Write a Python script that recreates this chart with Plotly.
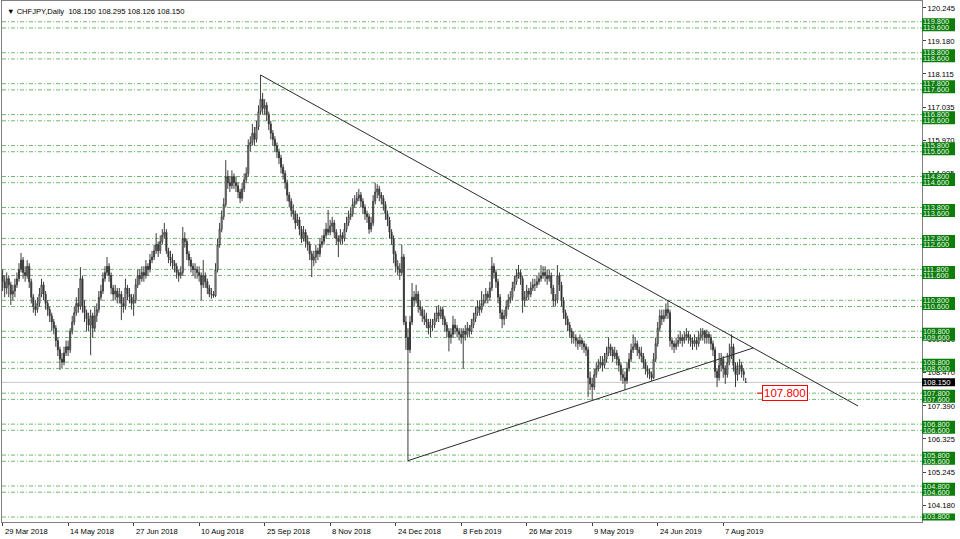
import plotly.graph_objects as go

# ---------------- data ----------------
chart_title = "CHFJPY,Daily  108.150 108.295 108.126 108.150"

x_tick_bars = [0, 32, 64, 96, 128, 160, 192, 224, 256, 288, 320, 352]
x_tick_text = ["29 Mar 2018", "14 May 2018", "27 Jun 2018", "10 Aug 2018", "25 Sep 2018",
               "8 Nov 2018", "24 Dec 2018", "8 Feb 2019", "26 Mar 2019", "9 May 2019",
               "24 Jun 2019", "7 Aug 2019"]

y_tick_vals = [120.245, 119.180, 118.115, 117.035, 115.970, 114.905, 113.825, 112.760,
               111.695, 110.615, 109.550, 108.470, 107.390, 106.325, 105.245, 104.180]

level_prices = [119.8, 119.6, 118.8, 118.6, 117.8, 117.6, 116.8, 116.6, 115.8, 115.6,
                114.8, 114.6, 113.8, 113.6, 112.8, 112.6, 111.8, 111.6, 110.8, 110.6,
                109.8, 109.6, 108.8, 108.6, 107.8, 107.6, 106.8, 106.6, 105.8, 105.6,
                104.8, 104.6, 103.8]

bid_price = 108.150
label_price = 107.800
label_bar = 371
label_tick_bars = [368.5, 371]

upper_line_bars = [126, 417.9]
upper_line_prices = [118.08, 107.385]
lower_line_bars = [198, 366.6]
lower_line_prices = [105.62, 109.26]

opens = [
    111.6, 111.4, 111.2, 111.5, 111.3, 111.0, 111.1, 111.3, 111.5, 111.8,
    112.1, 111.7, 111.6, 111.9, 111.4, 110.9, 110.6, 110.5, 110.7, 111.0,
    111.3, 111.0, 110.7, 110.5, 110.3, 110.1, 109.9, 109.5, 109.2, 108.9,
    108.8, 109.1, 109.3, 109.2, 109.8, 110.1, 110.4, 110.7, 110.6, 111.5,
    110.6, 110.4, 110.2, 110.0, 110.3, 109.9, 110.3, 110.5, 110.9, 111.1,
    111.5, 111.7, 111.9, 111.6, 111.2, 111.0, 111.1, 110.9, 111.0, 110.7,
    110.6, 111.2, 111.0, 110.9, 110.7, 110.8, 111.3, 111.6, 111.5, 111.7,
    111.6, 111.9, 111.8, 112.1, 112.2, 112.4, 112.6, 112.4, 112.7, 112.9,
    113.0, 112.4, 112.2, 112.1, 112.0, 111.9, 111.7, 111.6, 111.7, 112.8,
    112.7, 112.3, 112.1, 111.9, 111.8, 111.8, 111.7, 111.6, 111.3, 111.6,
    111.4, 111.2, 111.0, 111.0, 110.95, 111.8, 112.6, 113.1, 113.5, 113.9,
    114.8, 114.6, 114.5, 114.8, 114.6, 114.5, 114.3, 114.1, 114.4, 114.7,
    114.9, 115.8, 115.9, 116.2, 116.0, 116.4, 116.9, 117.3, 117.0, 117.1,
    116.8, 116.5, 116.2, 116.0, 115.8, 115.6, 115.4, 115.1, 114.9, 114.6,
    114.2, 114.0, 113.7, 113.6, 113.3, 113.4, 113.1, 112.8, 113.0, 112.7,
    112.6, 112.3, 112.1, 112.2, 112.4, 112.3, 112.6, 112.7, 112.9, 113.1,
    113.0, 113.2, 113.3, 113.0, 112.8, 112.7, 112.9, 112.8, 113.1, 113.3,
    113.5, 113.6, 113.9, 114.0, 114.1, 114.2, 114.0, 113.8, 113.6, 113.5,
    113.1, 113.3, 114.0, 114.3, 114.4, 114.2, 114.1, 113.9, 113.6, 113.4,
    113.0, 112.8, 112.3, 111.9, 111.8, 111.7, 112.2, 110.1, 109.6, 109.2,
    110.1, 110.9, 110.8, 111.0, 110.6, 110.5, 110.3, 110.2, 110.1, 109.9,
    110.0, 110.0, 110.2, 110.4, 110.3, 110.5, 110.2, 110.0, 109.8, 109.6,
    109.7, 110.0, 109.9, 109.8, 109.7, 109.6, 109.8, 109.7, 109.9, 109.8,
    110.0, 110.2, 110.4, 110.6, 110.5, 110.7, 110.8, 111.0, 110.9, 111.2,
    111.9, 111.7, 111.4, 110.9, 110.4, 110.2, 110.3, 110.6, 110.8, 110.9,
    111.2, 111.4, 111.6, 111.7, 111.5, 110.8, 110.9, 111.1, 111.0, 111.2,
    111.3, 111.3, 111.4, 111.5, 111.6, 111.7, 111.6, 111.5, 111.6, 111.2,
    110.8, 110.8, 111.6, 111.3, 110.8, 110.4, 110.2, 110.0, 109.8, 109.6,
    109.6, 109.5, 109.4, 109.5, 109.4, 109.3, 109.2, 108.3, 108.1, 108.0,
    108.4, 108.6, 108.7, 108.8, 108.7, 108.9, 109.1, 109.3, 109.2, 109.0,
    109.1, 108.9, 108.7, 108.4, 108.3, 108.2, 108.6, 108.9, 109.2, 109.3,
    109.4, 109.2, 109.1, 109.0, 108.8, 108.6, 108.5, 108.4, 108.3, 108.9,
    109.4, 109.9, 110.3, 110.2, 110.3, 110.5, 110.4, 109.5, 109.4, 109.3,
    109.4, 109.5, 109.6, 109.5, 109.6, 109.7, 109.6, 109.5, 109.4, 109.5,
    109.4, 109.6, 109.7, 109.8, 109.6, 109.7, 109.6, 109.4, 109.2, 108.5,
    108.3, 108.7, 108.9, 108.6, 108.4, 108.8, 109.0, 109.3, 108.7, 108.4,
    108.6, 108.7, 108.5, 108.15,
]

highs = [
    111.8, 111.6, 111.7, 111.6, 111.4, 111.3, 111.5, 111.7, 112.0, 112.33,
    112.2, 111.9, 112.1, 112.0, 111.5, 111.0, 110.8, 110.9, 111.2, 111.5,
    111.4, 111.1, 110.8, 110.6, 110.4, 110.2, 110.0, 109.6, 109.3, 109.1,
    109.3, 109.5, 109.5, 109.9, 110.3, 110.6, 110.9, 111.2, 111.87, 111.6,
    110.8, 110.5, 110.4, 110.5, 110.4, 110.6, 110.7, 111.1, 111.3, 111.7,
    111.9, 112.2, 112.0, 111.7, 111.3, 111.3, 111.2, 111.2, 111.1, 110.9,
    111.5, 111.3, 111.2, 111.0, 111.0, 111.5, 111.8, 111.8, 111.9, 111.9,
    112.1, 112.0, 112.3, 112.4, 112.6, 112.97, 112.7, 112.9, 113.1, 113.3,
    113.1, 112.5, 112.4, 112.3, 112.1, 112.0, 111.8, 111.9, 113.17, 113.0,
    112.8, 112.4, 112.2, 112.0, 112.0, 111.9, 111.9, 111.7, 112.1, 111.7,
    111.5, 111.3, 111.2, 111.1, 112.0, 112.8, 113.3, 113.7, 114.1, 115.33,
    115.0, 114.8, 115.0, 114.9, 114.8, 114.6, 114.4, 114.6, 114.9, 115.1,
    116.0, 116.1, 116.5, 116.4, 116.6, 117.1, 118.08, 117.5, 117.3, 117.2,
    116.9, 116.6, 116.3, 116.1, 115.9, 115.7, 115.5, 115.2, 115.0, 114.7,
    114.3, 114.1, 113.9, 113.7, 113.6, 113.5, 113.2, 113.2, 113.1, 112.9,
    112.7, 112.4, 112.4, 112.6, 112.5, 112.8, 112.9, 113.1, 113.3, 113.72,
    113.4, 113.5, 113.4, 113.1, 112.9, 113.1, 113.0, 113.3, 113.5, 113.7,
    113.8, 114.1, 114.2, 114.3, 114.4, 114.3, 114.1, 113.9, 113.7, 113.6,
    113.5, 114.2, 114.6, 114.55, 114.5, 114.3, 114.2, 114.0, 113.7, 113.5,
    113.1, 112.9, 112.4, 112.1, 112.0, 112.6, 112.3, 110.3, 109.9, 110.3,
    111.36, 111.1, 111.3, 111.1, 110.8, 110.6, 110.5, 110.4, 110.2, 110.2,
    110.2, 110.4, 110.6, 110.65, 110.6, 110.6, 110.3, 110.1, 109.9, 109.9,
    110.3, 110.2, 110.0, 109.9, 109.9, 109.9, 110.0, 110.1, 110.0, 110.2,
    110.4, 110.6, 110.8, 110.8, 111.1, 111.0, 111.2, 111.1, 111.4, 112.2,
    112.0, 111.8, 111.5, 111.0, 110.5, 110.5, 110.8, 111.0, 111.1, 111.4,
    111.6, 111.8, 111.94, 111.8, 111.6, 111.1, 111.3, 111.2, 111.4, 111.5,
    111.5, 111.6, 111.7, 111.94, 111.9, 111.9, 111.8, 111.8, 111.7, 111.3,
    111.0, 111.94, 111.7, 111.4, 110.9, 110.5, 110.3, 110.1, 109.9, 109.8,
    109.7, 109.6, 109.7, 109.6, 109.5, 109.4, 109.3, 108.5, 108.3, 108.6,
    108.8, 108.9, 109.0, 109.0, 109.1, 109.3, 109.6, 109.4, 109.3, 109.3,
    109.2, 109.0, 108.8, 108.6, 108.5, 108.8, 109.1, 109.4, 109.7, 109.6,
    109.5, 109.3, 109.3, 109.1, 108.9, 108.7, 108.6, 108.5, 109.1, 109.6,
    110.1, 110.5, 110.5, 110.5, 110.7, 110.81, 110.5, 109.6, 109.5, 109.6,
    109.7, 109.8, 109.7, 109.8, 109.9, 109.8, 109.7, 109.6, 109.7, 109.6,
    109.8, 109.9, 109.9, 109.85, 109.85, 109.8, 109.7, 109.5, 109.3, 108.6,
    109.1, 109.1, 109.0, 108.7, 109.1, 109.4, 109.7, 109.4, 108.8, 108.8,
    108.9, 108.8, 108.6, 108.295,
]

lows = [
    111.1, 110.9, 111.0, 110.9, 110.65, 110.8, 110.9, 111.2, 111.4, 111.7,
    111.5, 111.4, 111.5, 111.2, 110.7, 110.4, 110.3, 110.4, 110.6, 110.9,
    110.8, 110.5, 110.3, 110.1, 109.8, 109.7, 109.3, 109.0, 108.55, 108.6,
    108.7, 109.0, 109.0, 109.1, 109.7, 110.0, 110.3, 110.4, 110.5, 110.4,
    110.1, 109.8, 109.8, 109.03, 109.6, 109.8, 110.1, 110.4, 110.8, 111.0,
    111.4, 111.6, 111.4, 111.0, 110.8, 110.8, 110.7, 110.7, 110.16, 110.4,
    110.5, 110.8, 110.7, 110.5, 110.3, 110.7, 111.2, 111.3, 111.4, 111.4,
    111.5, 111.6, 111.7, 112.0, 112.1, 112.3, 112.2, 112.3, 112.6, 112.8,
    112.3, 112.0, 111.9, 111.8, 111.7, 111.5, 111.4, 111.5, 111.6, 112.5,
    112.1, 111.9, 111.7, 111.6, 111.5, 111.5, 111.4, 110.8, 111.2, 111.2,
    111.0, 110.9, 110.85, 110.88, 110.9, 111.7, 112.5, 113.0, 113.4, 113.8,
    114.4, 114.3, 114.4, 114.4, 114.3, 114.1, 113.94, 114.0, 114.3, 114.6,
    114.8, 115.6, 115.8, 115.8, 115.9, 116.3, 116.8, 116.8, 116.8, 116.6,
    116.3, 116.0, 115.8, 115.6, 115.4, 115.2, 114.9, 114.7, 114.4, 114.0,
    113.8, 113.5, 113.4, 113.1, 113.2, 112.9, 112.65, 112.7, 112.5, 112.4,
    112.1, 111.55, 111.9, 112.0, 112.1, 112.2, 112.5, 112.6, 112.8, 112.9,
    112.9, 113.0, 112.8, 112.6, 112.2, 112.6, 112.6, 112.7, 113.0, 113.2,
    113.4, 113.5, 113.8, 113.9, 114.0, 113.8, 113.6, 113.4, 113.3, 112.95,
    113.0, 113.2, 113.9, 114.1, 114.0, 113.9, 113.7, 113.4, 113.2, 112.8,
    112.6, 112.0, 111.7, 111.6, 111.46, 111.6, 110.0, 109.2, 105.62, 109.1,
    110.0, 110.6, 110.7, 110.4, 110.3, 110.1, 110.0, 109.9, 109.7, 109.6,
    109.8, 109.9, 110.1, 110.1, 110.2, 110.0, 109.8, 109.6, 109.15, 109.4,
    109.6, 109.7, 109.6, 109.5, 109.4, 108.6, 109.5, 109.6, 109.6, 109.7,
    109.9, 110.1, 110.3, 110.3, 110.4, 110.6, 110.7, 110.7, 110.8, 111.1,
    111.5, 111.2, 110.7, 110.2, 109.9, 110.0, 110.2, 110.5, 110.7, 110.8,
    111.1, 111.3, 111.5, 111.3, 110.4, 110.6, 110.8, 110.8, 110.9, 111.1,
    111.1, 111.2, 111.3, 111.4, 111.5, 111.4, 111.3, 111.4, 111.0, 110.6,
    110.6, 110.7, 111.1, 110.6, 110.2, 110.0, 109.8, 109.6, 109.4, 109.4,
    109.3, 109.2, 109.3, 109.2, 109.1, 109.0, 107.68, 107.9, 107.58, 107.9,
    108.3, 108.5, 108.6, 108.5, 108.6, 108.8, 109.0, 109.0, 108.8, 108.9,
    108.7, 108.5, 108.2, 108.1, 107.9, 108.1, 108.5, 108.8, 109.1, 109.2,
    109.0, 108.9, 108.8, 108.6, 108.4, 108.3, 108.25, 108.2, 108.25, 108.8,
    109.3, 109.8, 110.0, 110.1, 110.2, 110.2, 109.3, 109.2, 109.1, 109.2,
    109.3, 109.4, 109.3, 109.4, 109.5, 109.4, 109.3, 109.2, 109.3, 109.2,
    109.3, 109.5, 109.5, 109.4, 109.4, 109.4, 109.2, 109.0, 108.3, 108.0,
    108.2, 108.5, 108.3, 108.1, 108.3, 108.7, 108.9, 108.5, 108.0, 108.2,
    108.4, 108.3, 108.2, 108.126,
]

closes = [
    111.4, 111.2, 111.5, 111.3, 111.0, 111.1, 111.3, 111.5, 111.8, 112.1,
    111.7, 111.6, 111.9, 111.4, 110.9, 110.6, 110.5, 110.7, 111.0, 111.3,
    111.0, 110.7, 110.5, 110.3, 110.1, 109.9, 109.5, 109.2, 108.9, 108.8,
    109.1, 109.3, 109.2, 109.8, 110.1, 110.4, 110.7, 110.6, 111.5, 110.6,
    110.4, 110.2, 110.0, 110.3, 109.9, 110.3, 110.5, 110.9, 111.1, 111.5,
    111.7, 111.9, 111.6, 111.2, 111.0, 111.1, 110.9, 111.0, 110.7, 110.6,
    111.2, 111.0, 110.9, 110.7, 110.8, 111.3, 111.6, 111.5, 111.7, 111.6,
    111.9, 111.8, 112.1, 112.2, 112.4, 112.6, 112.4, 112.7, 112.9, 113.0,
    112.4, 112.2, 112.1, 112.0, 111.9, 111.7, 111.6, 111.7, 112.8, 112.7,
    112.3, 112.1, 111.9, 111.8, 111.8, 111.7, 111.6, 111.3, 111.6, 111.4,
    111.2, 111.0, 111.0, 110.95, 111.8, 112.6, 113.1, 113.5, 113.9, 114.8,
    114.6, 114.5, 114.8, 114.6, 114.5, 114.3, 114.1, 114.4, 114.7, 114.9,
    115.8, 115.9, 116.2, 116.0, 116.4, 116.9, 117.3, 117.0, 117.1, 116.8,
    116.5, 116.2, 116.0, 115.8, 115.6, 115.4, 115.1, 114.9, 114.6, 114.2,
    114.0, 113.7, 113.6, 113.3, 113.4, 113.1, 112.8, 113.0, 112.7, 112.6,
    112.3, 112.1, 112.2, 112.4, 112.3, 112.6, 112.7, 112.9, 113.1, 113.0,
    113.2, 113.3, 113.0, 112.8, 112.7, 112.9, 112.8, 113.1, 113.3, 113.5,
    113.6, 113.9, 114.0, 114.1, 114.2, 114.0, 113.8, 113.6, 113.5, 113.1,
    113.3, 114.0, 114.3, 114.4, 114.2, 114.1, 113.9, 113.6, 113.4, 113.0,
    112.8, 112.3, 111.9, 111.8, 111.7, 112.2, 110.1, 109.6, 109.2, 110.1,
    110.9, 110.8, 111.0, 110.6, 110.5, 110.3, 110.2, 110.1, 109.9, 110.0,
    110.0, 110.2, 110.4, 110.3, 110.5, 110.2, 110.0, 109.8, 109.6, 109.7,
    110.0, 109.9, 109.8, 109.7, 109.6, 109.8, 109.7, 109.9, 109.8, 110.0,
    110.2, 110.4, 110.6, 110.5, 110.7, 110.8, 111.0, 110.9, 111.2, 111.9,
    111.7, 111.4, 110.9, 110.4, 110.2, 110.3, 110.6, 110.8, 110.9, 111.2,
    111.4, 111.6, 111.7, 111.5, 110.8, 110.9, 111.1, 111.0, 111.2, 111.3,
    111.3, 111.4, 111.5, 111.6, 111.7, 111.6, 111.5, 111.6, 111.2, 110.8,
    110.8, 111.6, 111.3, 110.8, 110.4, 110.2, 110.0, 109.8, 109.6, 109.6,
    109.5, 109.4, 109.5, 109.4, 109.3, 109.2, 108.3, 108.1, 108.0, 108.4,
    108.6, 108.7, 108.8, 108.7, 108.9, 109.1, 109.3, 109.2, 109.0, 109.1,
    108.9, 108.7, 108.4, 108.3, 108.2, 108.6, 108.9, 109.2, 109.3, 109.4,
    109.2, 109.1, 109.0, 108.8, 108.6, 108.5, 108.4, 108.3, 108.9, 109.4,
    109.9, 110.3, 110.2, 110.3, 110.5, 110.4, 109.5, 109.4, 109.3, 109.4,
    109.5, 109.6, 109.5, 109.6, 109.7, 109.6, 109.5, 109.4, 109.5, 109.4,
    109.6, 109.7, 109.8, 109.6, 109.7, 109.6, 109.4, 109.2, 108.5, 108.3,
    108.7, 108.9, 108.6, 108.4, 108.8, 109.0, 109.3, 108.7, 108.4, 108.6,
    108.7, 108.5, 108.4, 108.15,
]

# ---------------- figure ----------------
FONT = "Liberation Sans, Arial, sans-serif"
PLOT_W = 920.0               # plot-area width in px (960 - margins)
BOX_W = 33.0 / PLOT_W        # price-label box width in paper units
n = min(len(opens), len(highs), len(lows), len(closes))
bars = list(range(n))

fig = go.Figure()

fig.add_trace(go.Candlestick(
    x=bars, open=opens[:n], high=highs[:n], low=lows[:n], close=closes[:n],
    increasing=dict(line=dict(color="#3c3c3c", width=1), fillcolor="white"),
    decreasing=dict(line=dict(color="#3c3c3c", width=1), fillcolor="#111111"),
    whiskerwidth=0, showlegend=False, hoverinfo="skip",
))

# trend lines
fig.add_trace(go.Scatter(x=upper_line_bars, y=upper_line_prices, mode="lines",
                         line=dict(color="#2a2a2a", width=1), showlegend=False, hoverinfo="skip"))
fig.add_trace(go.Scatter(x=lower_line_bars, y=lower_line_prices, mode="lines",
                         line=dict(color="#2a2a2a", width=1), showlegend=False, hoverinfo="skip"))
# small red tick next to the price label
fig.add_trace(go.Scatter(x=label_tick_bars, y=[label_price, label_price], mode="lines",
                         line=dict(color="#ff0000", width=1), showlegend=False, hoverinfo="skip"))

shapes = []
for lv in level_prices:
    shapes.append(dict(type="line", xref="paper", x0=0, x1=1, yref="y", y0=lv, y1=lv,
                       line=dict(color="rgb(110,185,110)", width=1, dash="4px,2px,1px,2px"),
                       layer="below"))
shapes.append(dict(type="line", xref="paper", x0=0, x1=1, yref="y", y0=bid_price, y1=bid_price,
                   line=dict(color="#c8c8c8", width=1), layer="below"))
# green label boxes on the price scale (each box covers +-0.1 around its level)
for lv in level_prices:
    shapes.append(dict(type="rect", xref="paper", x0=1.0, x1=1.0 + BOX_W, yref="y",
                       y0=lv - 0.11, y1=lv + 0.11, fillcolor="#0a7d0a",
                       line=dict(color="#0a7d0a", width=0), layer="above"))
# black current-price box
shapes.append(dict(type="rect", xref="paper", x0=1.0, x1=1.0 + BOX_W, yref="y",
                   y0=bid_price - 0.13, y1=bid_price + 0.13, fillcolor="black",
                   line=dict(color="black", width=0), layer="above"))

annotations = []
# title
annotations.append(dict(xref="paper", yref="paper", x=0, y=1, xanchor="left", yanchor="top",
                        xshift=3, yshift=-4, showarrow=False,
                        text="▼ " + chart_title,
                        font=dict(family=FONT, size=7.6, color="black")))
# x labels
for b, t in zip(x_tick_bars, x_tick_text):
    annotations.append(dict(xref="x", yref="paper", x=b, y=0, xanchor="left", yanchor="top",
                            yshift=-3, showarrow=False, text=t,
                            font=dict(family=FONT, size=7.6, color="black")))
# green level label texts
for lv in level_prices:
    annotations.append(dict(xref="paper", yref="y", x=1, y=lv, xanchor="left", yanchor="middle",
                            xshift=0, showarrow=False, text=f"{lv:.3f}", borderpad=0,
                            font=dict(family=FONT, size=7.4, color="#eaf6ea")))
# current bid label text
annotations.append(dict(xref="paper", yref="y", x=1, y=bid_price, xanchor="left", yanchor="middle",
                        xshift=0, showarrow=False, text=f"{bid_price:.3f}", borderpad=0,
                        font=dict(family=FONT, size=7.6, color="white")))
# red price label
annotations.append(dict(xref="x", yref="y", x=label_bar, y=label_price, xanchor="left",
                        yanchor="middle", showarrow=False, text=f"{label_price:.3f}",
                        bgcolor="white", bordercolor="#ff0000", borderwidth=1, borderpad=1,
                        font=dict(family=FONT, size=11.5, color="#ff0000")))

fig.update_layout(
    width=960, height=539,
    margin=dict(l=2, r=38, t=1, b=17),
    paper_bgcolor="white", plot_bgcolor="white",
    shapes=shapes, annotations=annotations,
    showlegend=False,
    xaxis=dict(range=[-0.3, 449.1], rangeslider=dict(visible=False), showgrid=False,
               zeroline=False, showline=True, linecolor="#808080", linewidth=1, mirror=True,
               tickmode="array", tickvals=x_tick_bars, ticktext=[""] * len(x_tick_bars),
               ticks="outside", ticklen=3, tickcolor="#404040"),
    yaxis=dict(range=[103.638, 120.471], side="right", showgrid=False, zeroline=False,
               showline=True, linecolor="#808080", linewidth=1, mirror=True,
               tickmode="array", tickvals=y_tick_vals,
               ticktext=[f"{v:.3f}" for v in y_tick_vals],
               ticks="outside", ticklen=3, tickcolor="#404040",
               tickfont=dict(family=FONT, size=7.6, color="black")),
)

fig.write_html("out.html",
               config={"displayModeBar": False},
               post_script="document.body.style.margin='0';document.body.style.overflow='hidden';")
